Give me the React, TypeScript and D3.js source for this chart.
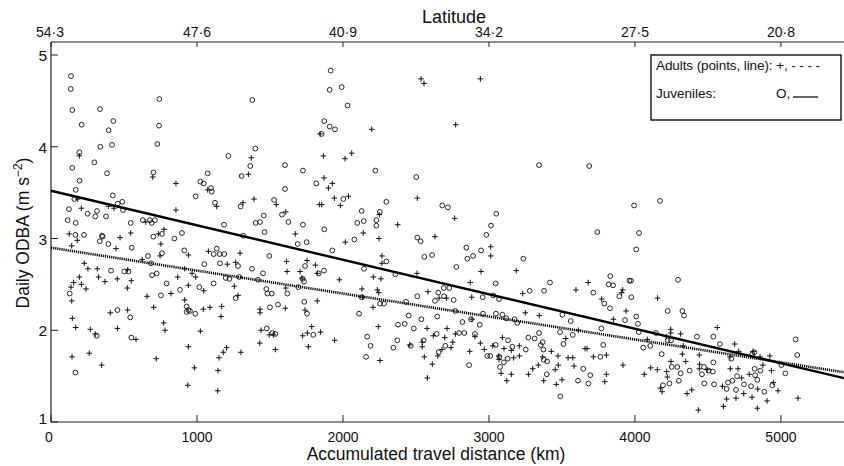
import React from "react";
import * as d3 from "d3";

const W = 844;
const H = 466;

// Accumulated travel distance (km), Daily ODBA (m s-2)
const juveniles: [number, number][] = [
  [137,4.77],[135,4.63],[146,4.40],[210,4.24],[194,3.94],[146,3.77],[196,3.63],[169,3.53],[160,3.43],[123,3.32],
  [114,3.20],[169,3.17],[167,3.04],[226,3.04],[336,4.41],[338,4.00],[395,4.18],[427,4.28],[418,4.02],[297,3.83],
  [384,3.71],[423,3.47],[457,3.38],[488,3.40],[493,3.31],[303,3.24],[315,3.30],[251,3.27],[377,3.24],[546,3.17],
  [349,3.03],[742,4.52],[740,4.23],[728,4.03],[701,3.72],[628,3.20],[678,3.20],[712,3.20],[690,3.17],[760,3.05],
  [701,3.02],[897,3.06],[845,3.00],[991,3.46],[1023,3.62],[1046,3.60],[1073,3.71],[1096,3.55],[1101,3.51],[1123,3.39],
  [1185,3.15],[1215,3.90],[1306,3.68],[1299,3.35],[1317,3.03],[1379,4.51],[1400,3.98],[1365,3.79],[1457,3.25],[1402,3.17],
  [1432,3.18],[1463,3.07],[1528,3.42],[1603,3.80],[1603,3.54],[1582,3.26],[1626,3.18],[1726,3.74],[1726,3.15],[1817,3.60],
  [1916,4.83],[1909,4.62],[1991,4.65],[2032,4.45],[1872,4.28],[1909,4.22],[1945,4.19],[1854,4.14],[2222,3.74],[2502,3.67],
  [2002,3.43],[2297,3.40],[2128,3.30],[2252,3.29],[2098,3.17],[2142,3.19],[2229,3.20],[2229,3.14],[1872,3.10],[2680,3.36],
  [2719,3.34],[3050,3.27],[3014,3.14],[2982,3.04],[3343,3.80],[2078,2.99],[2509,3.01],[3687,3.79],[3994,3.36],[4172,3.41],
  [128,2.40],[167,1.54],[334,2.97],[354,3.02],[393,2.94],[553,2.90],[411,2.65],[455,2.22],[543,2.14],[313,1.94],
  [550,1.92],[502,2.64],[530,2.64],[664,2.81],[685,2.73],[692,2.60],[724,2.62],[753,2.38],[792,2.51],[760,2.84],
  [884,2.44],[913,2.87],[929,2.26],[941,2.22],[929,2.20],[952,2.21],[988,2.18],[1016,2.47],[1050,2.72],[1114,2.51],
  [1135,2.89],[1114,2.83],[1155,2.83],[1187,2.83],[1158,2.73],[1197,2.57],[1222,2.56],[1281,2.70],[1265,2.35],[1290,2.58],
  [1377,2.67],[1452,2.62],[1495,2.81],[1418,2.55],[1475,2.45],[1512,2.40],[1482,2.40],[1500,2.25],[1555,2.28],[1478,2.02],
  [1516,1.97],[1537,1.96],[1619,2.40],[1694,2.47],[1690,2.94],[1751,2.96],[1724,2.56],[1733,2.53],[1740,2.70],[1735,2.31],
  [1754,2.18],[1797,1.95],[1834,2.62],[1927,2.87],[1870,2.65],[2144,2.67],[2297,2.75],[2359,2.61],[2532,2.97],[2557,2.80],
  [2610,2.82],[2110,2.18],[2128,2.36],[2166,1.93],[2189,1.83],[2158,1.71],[2254,2.29],[2281,2.29],[2345,1.81],[2372,1.89],
  [2377,2.06],[2423,2.07],[2432,2.31],[2450,2.16],[2464,1.83],[2485,2.02],[2509,2.37],[2537,2.12],[2553,1.89],[2630,2.32],
  [2646,2.15],[2642,1.96],[2653,2.41],[2690,2.46],[2728,2.46],[2692,2.37],[2758,2.33],[2655,1.76],[2701,1.83],[2770,2.21],
  [2777,2.69],[2795,1.97],[2831,1.97],[2818,2.09],[2845,2.90],[2891,2.81],[2852,2.78],[2864,1.62],[2877,2.12],[2904,1.96],
  [2937,2.06],[2946,2.87],[2959,2.18],[2957,2.36],[2989,1.72],[3009,1.72],[3030,2.38],[3069,2.34],[3046,2.51],[3048,2.18],
  [3092,2.17],[3119,2.13],[3046,1.84],[3071,1.71],[3103,1.65],[3076,1.60],[3130,1.89],[3160,1.82],[3128,1.69],[3176,2.12],
  [3194,2.08],[3235,2.78],[3279,2.43],[3377,2.43],[3418,2.52],[3270,1.92],[3313,1.91],[3343,1.97],[3355,1.84],[3373,1.79],
  [3368,1.87],[3252,1.79],[3375,1.68],[3398,1.66],[3396,1.52],[3489,1.28],[3510,1.85],[3487,1.98],[3503,2.17],[3560,2.10],
  [3574,1.95],[3610,1.45],[3742,3.07],[4028,3.06],[4009,2.88],[3831,2.59],[3820,2.50],[3850,2.49],[3962,2.54],[3973,2.54],
  [3715,2.41],[3893,2.37],[3975,2.36],[3790,2.29],[3829,2.24],[4295,2.55],[3932,2.11],[4009,2.15],[4021,2.07],[4026,1.98],
  [3770,2.02],[3783,1.84],[3763,1.71],[3646,1.58],[3694,1.51],[3681,1.42],[4057,1.81],[4105,1.83],[4144,1.97],[4224,2.21],
  [4325,2.21],[4336,2.16],[4224,1.89],[4247,1.89],[4183,1.74],[4252,1.60],[4290,1.60],[4313,1.53],[4192,1.40],[4236,1.42],
  [4301,1.45],[4375,1.56],[4425,1.93],[4537,1.93],[4582,1.85],[4537,1.65],[4473,1.60],[4505,1.56],[4533,1.55],[4459,1.52],
  [4475,1.42],[4542,1.41],[4628,1.36],[4637,1.43],[4667,1.45],[4692,1.35],[4747,1.41],[4699,1.50],[4660,1.69],[4804,1.74],
  [4818,1.76],[4820,1.58],[4859,1.56],[4823,1.51],[4795,1.39],[4886,1.33],[4941,1.40],[4838,1.46],[5003,1.62],[5030,1.53],
  [5101,1.90],[5112,1.73],
];

const adults: [number, number][] = [
  [194,3.90],[183,3.43],[208,3.33],[125,3.05],[393,3.35],[432,3.33],[473,3.01],[546,3.06],[697,3.67],[649,3.18],
  [774,3.10],[735,3.05],[856,3.60],[856,3.31],[1073,3.53],[1135,3.35],[1352,3.70],[1372,3.88],[1391,3.43],[1315,3.39],
  [1543,3.37],[1608,3.29],[1673,3.05],[1843,4.14],[1838,3.37],[2535,4.74],[2555,4.69],[2941,4.74],[2197,4.19],[2772,4.24],
  [1866,3.90],[2014,3.87],[2060,3.93],[1870,3.66],[1927,3.60],[1900,3.55],[1941,3.44],[2037,3.46],[1854,3.37],[1982,3.36],
  [2509,3.44],[2765,3.22],[2375,3.15],[2249,3.26],[2139,3.06],[2247,3.00],[2630,3.02],[180,2.98],[142,2.92],[228,2.73],
  [253,2.67],[194,2.58],[155,2.52],[208,2.50],[240,2.45],[137,2.47],[142,2.32],[146,2.13],[169,2.03],[269,2.01],
  [303,1.96],[144,1.71],[262,1.75],[347,1.62],[317,2.67],[326,2.58],[370,2.53],[445,2.89],[454,2.56],[550,2.54],
  [523,2.46],[525,2.66],[406,2.19],[455,2.02],[525,2.22],[582,1.90],[625,2.77],[658,2.37],[703,2.25],[721,1.69],
  [747,2.81],[753,2.94],[772,2.08],[781,2.00],[822,2.40],[868,2.58],[916,2.33],[941,2.49],[941,1.82],[937,1.40],
  [916,2.67],[941,2.82],[966,2.62],[991,2.58],[982,1.59],[1023,1.99],[1043,2.23],[1089,2.25],[1046,2.43],[1078,2.86],
  [1169,2.26],[1165,2.15],[1208,2.72],[1151,1.70],[1180,1.76],[1203,1.81],[1144,1.56],[1142,1.34],[1256,2.48],[1265,2.74],
  [1295,2.84],[1281,2.38],[1301,1.76],[1432,2.23],[1432,2.19],[1439,2.00],[1430,1.86],[1495,1.95],[1523,1.95],[1537,1.79],
  [1605,2.24],[1614,2.75],[1617,2.64],[1608,2.46],[1706,2.64],[1719,2.57],[1754,2.76],[1811,2.71],[1740,2.22],[1756,1.97],
  [1724,1.94],[1786,2.04],[1824,2.32],[1763,1.82],[2016,2.96],[1824,2.62],[1975,2.55],[2130,2.45],[2135,2.36],[2208,2.58],
  [2260,2.56],[2235,2.44],[2245,2.41],[2267,2.81],[2267,2.73],[2507,2.62],[2206,2.25],[2242,2.04],[1847,1.98],[1943,1.89],
  [2254,1.67],[2457,1.84],[2543,1.87],[2543,1.82],[2557,1.71],[2576,2.02],[2582,2.42],[2619,1.94],[2612,1.63],[2578,1.48],
  [2658,2.35],[2710,2.35],[2697,1.92],[2713,2.02],[2649,1.72],[2678,1.79],[2752,1.87],[2740,1.81],[2770,1.96],[2872,2.52],
  [2882,2.36],[2946,2.64],[3012,2.91],[3012,2.81],[2868,1.77],[2884,2.12],[2904,1.93],[2941,1.86],[2968,1.79],[3026,1.83],
  [3067,1.72],[3069,1.68],[3083,1.53],[3153,1.52],[3122,1.45],[3092,1.92],[3103,1.80],[3153,1.78],[3169,1.70],[3208,1.72],
  [3208,1.83],[3187,2.65],[3231,2.40],[3249,2.19],[3270,1.52],[3300,1.58],[3338,1.62],[3345,2.16],[3368,1.71],[3375,1.45],
  [3427,1.77],[3461,1.41],[3500,1.46],[3454,1.57],[3475,1.62],[3473,1.72],[3526,1.91],[3542,1.70],[3574,1.70],[3583,1.61],
  [3596,2.44],[3612,2.00],[3680,2.52],[3772,2.34],[3916,2.44],[3909,2.41],[3939,2.21],[3852,2.12],[4155,2.35],[4085,1.90],
  [4108,1.59],[4064,1.52],[4245,2.01],[4245,1.97],[4313,1.96],[4215,1.93],[4331,1.83],[4325,1.74],[4348,1.66],[4247,1.66],
  [4222,1.49],[4217,1.55],[4153,1.57],[4174,1.37],[4186,1.33],[4357,1.31],[4389,1.35],[4434,1.13],[4564,2.03],[4443,1.63],
  [4441,1.58],[4494,1.57],[4441,1.73],[4599,1.39],[4606,1.17],[4628,1.25],[4692,1.26],[4653,1.58],[4706,1.58],[4683,1.85],
  [4651,1.71],[4711,1.77],[4731,1.48],[4745,1.31],[4783,1.52],[4809,1.77],[4857,1.71],[4876,1.62],[4924,1.72],[4935,1.56],
  [4802,1.27],[4838,1.15],[4905,1.23],[4841,1.36],[4980,1.34],[4948,1.43],[5117,1.26],[3658,1.80],[3672,1.80],[3715,1.71],
  [3804,1.73],[3804,1.52],[3793,1.44],[3918,1.62],
];

// Regression lines: intercept (ODBA at 0 km), slope (per km)
const fitNames = ["Adults", "Juveniles"];
const fitIntercepts = [2.9, 3.52];
const fitSlopes = [-0.00025, -0.000376];

const xTicks = [0, 1000, 2000, 3000, 4000, 5000];
const latitudeLabels = ["54·3", "47·6", "40·9", "34·2", "27·5", "20·8"];
const yTicks = [1, 2, 3, 4, 5];

const FONT = "'Liberation Sans', Arial, Helvetica, sans-serif";

export default function App() {
  const left = 51, right = 844, top = 42, bottom = 422;
  const x = d3.scaleLinear().domain([0, 5432]).range([left, right]);
  const y = d3.scaleLinear().domain([1, 5.1417]).range([bottom, top]);
  const line = d3.line<[number, number]>().x((d) => x(d[0])).y((d) => y(d[1]));
  const xMax = x.domain()[1];

  return (
    <svg width={W} height={H} style={{ position: "absolute", left: 0, top: 0, background: "#fff" }} fontFamily={FONT}>
      <rect x={0} y={0} width={W} height={H} fill="#fff" />
      {/* axes */}
      <line x1={left} x2={right} y1={top} y2={top} stroke="#222" strokeWidth={1.2} />
      <line x1={left} x2={right} y1={bottom} y2={bottom} stroke="#222" strokeWidth={1.2} />
      <line x1={left} x2={left} y1={top} y2={bottom} stroke="#222" strokeWidth={1.2} />
      {xTicks.map((t, i) => (
        <g key={"xt" + t}>
          <line x1={x(t)} x2={x(t)} y1={bottom} y2={bottom - 7} stroke="#222" strokeWidth={1} />
          <line x1={x(t)} x2={x(t)} y1={top} y2={top + 5} stroke="#222" strokeWidth={1} />
          <text x={x(t) - (t === 0 ? 2 : 0)} y={bottom + 20} fontSize={14} textAnchor="middle" fill="#111">{t}</text>
          <text x={x(t) - (i === 0 ? 1 : 0)} y={top - 5} fontSize={14} textAnchor="middle" fill="#111">{latitudeLabels[i]}</text>
        </g>
      ))}
      {yTicks.map((t) => (
        <g key={"yt" + t}>
          <line x1={left} x2={left + 7} y1={y(t)} y2={y(t)} stroke="#222" strokeWidth={1} />
          <text x={left - 4} y={y(t) + (t === 1 ? 2 : 6)} fontSize={15.5} textAnchor="end" fill="#111">{t}</text>
        </g>
      ))}
      <text x={436} y={460} fontSize={17.5} textAnchor="middle" fill="#111">Accumulated travel distance (km)</text>
      <text x={454} y={23} fontSize={18} textAnchor="middle" fill="#111">Latitude</text>
      <text transform={`translate(29,${233}) rotate(-90)`} fontSize={17.5} textAnchor="middle" fill="#111">
        Daily ODBA (m s<tspan dy={-7} fontSize={12}>−2</tspan><tspan dy={7}>)</tspan>
      </text>

      {/* points */}
      {juveniles.map((d, i) => (
        <circle key={"j" + i} cx={x(d[0])} cy={y(d[1])} r={2.4} fill="none" stroke="#111" strokeWidth={0.9} />
      ))}
      {adults.map((d, i) => (
        <path key={"a" + i} d={`M${x(d[0]) - 2.8},${y(d[1])}h5.6M${x(d[0])},${y(d[1]) - 2.8}v5.6`} stroke="#111" strokeWidth={1} fill="none" />
      ))}

      {/* regression lines */}
      {fitNames.map((n, i) => {
        const pts: [number, number][] = [0, xMax].map((k) => [k, fitIntercepts[i] + fitSlopes[i] * k]);
        return (
          <path key={n} d={line(pts) || ""} fill="none" stroke="#000" strokeWidth={n === "Adults" ? 2.6 : 2.4}
            strokeDasharray={n === "Adults" ? "1.2,0.9" : undefined} />
        );
      })}

      {/* legend */}
      <rect x={651} y={55} width={190} height={65} fill="#fff" stroke="#111" strokeWidth={1.4} />
      <text x={656} y={70} fontSize={13.5} fill="#111" textLength={164}>Adults (points, line): +, - - - -</text>
      <text x={656} y={98} fontSize={13.5} fill="#111">Juveniles:</text>
      <text x={776} y={98} fontSize={13.5} fill="#111">O,</text>
      <line x1={793} x2={818} y1={97} y2={97} stroke="#111" strokeWidth={1.3} />
    </svg>
  );
}
